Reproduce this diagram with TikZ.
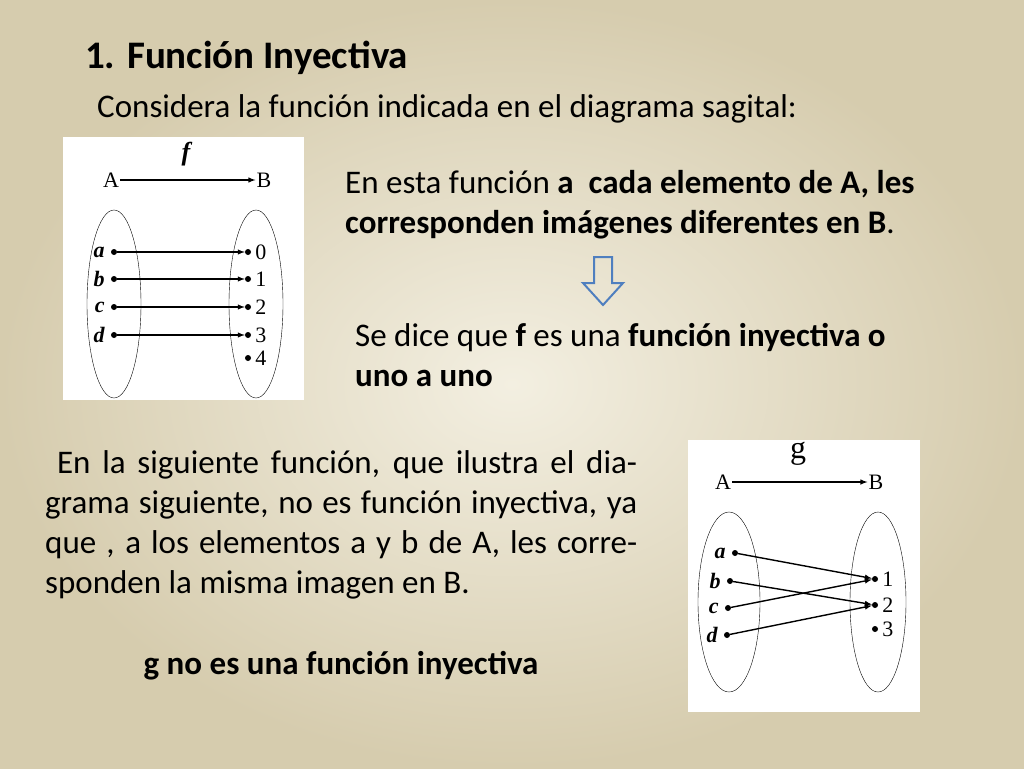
\documentclass[tikz,border=0pt]{standalone}
\usepackage{fontspec}
\setmainfont{Carlito}
\newfontfamily\diagfont{Liberation Serif}
\usetikzlibrary{positioning}
\definecolor{bgin}{HTML}{F3EFE1}
\definecolor{bgout}{HTML}{D6CCAE}
\definecolor{arrowblue}{HTML}{4F7FBF}
\begin{document}
\begin{tikzpicture}[x=1pt, y=-1pt,
    txt/.style = {anchor=base west, inner sep=0, font=\fontsize{33}{40}\selectfont},
    pt/.style = {circle, fill=black, inner sep=0, minimum size=6pt},
    lbl/.style = {font=\diagfont\fontsize{22}{22}\selectfont\itshape\bfseries, inner sep=1pt},
    num/.style = {font=\diagfont\fontsize{22}{22}\selectfont, inner sep=1pt},
    map/.style = {-latex, line width=1.4pt}
    ]
    % background
    \shade[inner color=bgin, outer color=bgout] (0,0) rectangle (1024,768);
    \useasboundingbox (0,0) rectangle (1024,768);
    % texts
    \node (title) [txt, font=\fontsize{39}{44}\selectfont\bfseries] at (85,68) {1. Función Inyectiva};
    \node (sub) [txt] at (97,117) {Considera la función indicada en el diagrama sagital:};
    \node (p1) [txt, anchor=north west, align=left] at (345,170)
        {En esta función \textbf{a\ \ cada elemento de A, les}\\\textbf{corresponden imágenes diferentes en B}.};
    \node (p2) [txt, anchor=north west, align=left] at (355,323)
        {Se dice que \textbf{f} es una \textbf{función inyectiva o}\\\textbf{uno a uno}};
    \node (p3) [txt, anchor=north west, text width=592pt, align=justify] at (45,450)
        {\hyphenpenalty=10000\exhyphenpenalty=10000\emergencystretch=3em
         \ En la siguiente función, que ilustra el diagrama siguiente, no es función inyectiva, ya que , a los elementos a y b de A, les corresponden la misma imagen en B.};
    \node (p4) [txt, anchor=base, font=\fontsize{33}{40}\selectfont\bfseries] at (341,674) {g no es una función inyectiva};
    % hollow arrow
    \draw[arrowblue, line width=2pt, line join=miter]
        (594,257) -- (612,257) -- (612,283) -- (623,283) -- (603,305)
        -- (583,283) -- (594,283) -- cycle;
    % diagram f
    \fill[white] (63,137) rectangle (304,400);
    \draw (114,304) ellipse [x radius=27, y radius=94];
    \draw (256,304) ellipse [x radius=27, y radius=94];
    \node (fA) [num] at (111,180) {A};
    \node (fB) [num] at (264,180) {B};
    \draw[map] (fA) -- (fB);
    \node (f) [lbl, font=\diagfont\fontsize{26}{26}\selectfont\itshape\bfseries] at (186,154) {f};
    \foreach \n/\y in {a/252, b/279, c/307, d/335} {
        \node (fa\n) [pt] at (114,\y) {};
        \node [lbl, left=5pt of fa\n] {\n};
    }
    \foreach \n/\y in {0/252, 1/279, 2/307, 3/335, 4/358} {
        \node (fb\n) [pt] at (248,\y) {};
        \node [num, right=3pt of fb\n] {\n};
    }
    \draw[map] (faa) -- (fb0);
    \draw[map] (fab) -- (fb1);
    \draw[map] (fac) -- (fb2);
    \draw[map] (fad) -- (fb3);
    % diagram g
    \fill[white] (688,440) rectangle (920,712);
    \draw (729,602) ellipse [x radius=31, y radius=90];
    \draw (878,602) ellipse [x radius=28, y radius=90];
    \node (gA) [num] at (723,482) {A};
    \node (gB) [num] at (876,482) {B};
    \draw[map] (gA) -- (gB);
    \node (g) [num, font=\diagfont\fontsize{32}{32}\selectfont] at (798,454) {g};
    \foreach \n/\x/\y in {a/735/553, b/730/581, c/728/608, d/727/635} {
        \node (ga\n) [pt] at (\x,\y) {};
        \node [lbl, left=5pt of ga\n] {\n};
    }
    \foreach \n/\y in {1/579, 2/605, 3/629} {
        \node (gb\n) [pt] at (875,\y) {};
        \node [num, right=3pt of gb\n] {\n};
    }
    \draw[map] (gaa) -- (gb1);
    \draw[map] (gab) -- (gb2);
    \draw[map] (gac) -- (gb1);
    \draw[map] (gad) -- (gb2);
\end{tikzpicture}
\end{document}
